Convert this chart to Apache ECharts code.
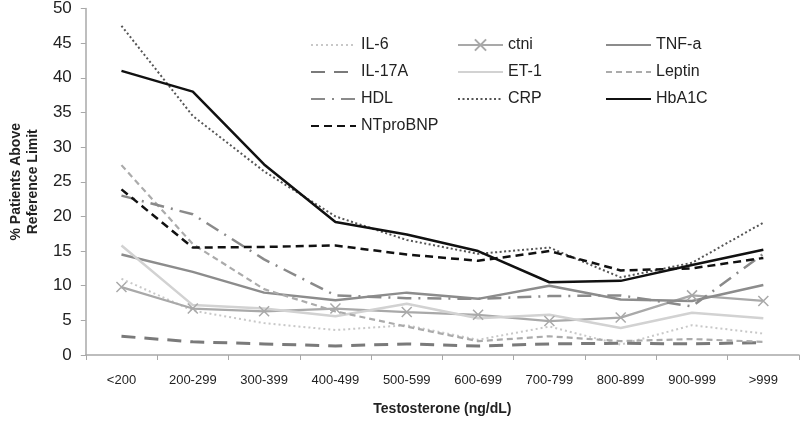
<!DOCTYPE html>
<html><head><meta charset="utf-8">
<script src="https://cdn.jsdelivr.net/npm/echarts@6/dist/echarts.min.js"></script>
<style>html,body{margin:0;padding:0;background:#fff}#c{width:800px;height:421px}</style>
</head><body><div id="c"></div>
<script>
const categories = ['<200','200-299','300-399','400-499','500-599','600-699','700-799','800-899','900-999','>999'];
const il6      = [11.0, 6.4, 4.6, 3.6, 4.3, 2.2, 4.1, 1.5, 4.3, 3.1];
const ctni     = [9.8, 6.7, 6.3, 6.7, 6.2, 5.8, 4.9, 5.4, 8.6, 7.8];
const tnfa     = [14.5, 12.0, 9.0, 7.9, 9.0, 8.1, 10.0, 8.0, 7.8, 10.1];
const il17a    = [2.7, 1.9, 1.6, 1.3, 1.6, 1.3, 1.6, 1.7, 1.6, 1.8];
const et1      = [15.8, 7.2, 6.7, 5.6, 7.4, 5.3, 5.8, 3.9, 6.1, 5.3];
const leptin   = [27.4, 16.0, 9.5, 6.3, 4.1, 2.0, 2.7, 2.0, 2.3, 1.9];
const hdl      = [23.0, 20.3, 13.8, 8.6, 8.2, 8.1, 8.5, 8.6, 7.0, 14.6];
const crp      = [47.5, 34.5, 26.5, 20.0, 16.6, 14.6, 15.5, 11.2, 13.3, 19.1];
const hba1c    = [41.0, 38.0, 27.5, 19.2, 17.4, 15.0, 10.5, 10.7, 13.0, 15.2];
const ntprobnp = [23.9, 15.5, 15.6, 15.8, 14.5, 13.6, 15.0, 12.2, 12.5, 14.0];
const yTicks = [0, 5, 10, 15, 20, 25, 30, 35, 40, 45, 50];

const FONT = 'Liberation Sans, Arial, sans-serif';
function ser(name, data, color, width, type, extra) {
  return Object.assign({
    name, type: 'line', data, symbol: 'none', smooth: false,
    lineStyle: { color, width, type },
    itemStyle: { color },
    z: 2
  }, extra || {});
}
const series = [
  ser('IL-6', il6, '#c8c8c8', 2, [2, 3]),
  ser('ctni', ctni, '#a9a9a9', 2.2, 'solid', {
    symbol: 'path://M0,0L10,10M10,0L0,10', symbolSize: 10, showSymbol: true,
    itemStyle: { color: '#a9a9a9', borderColor: '#a9a9a9', borderWidth: 1.5 }
  }),
  ser('TNF-a', tnfa, '#8c8c8c', 2.5, 'solid'),
  ser('IL-17A', il17a, '#7a7a7a', 3, [14, 9]),
  ser('ET-1', et1, '#d2d2d2', 2.5, 'solid'),
  ser('Leptin', leptin, '#ababab', 2.2, [6, 4]),
  ser('HDL', hdl, '#8a8a8a', 2.5, [14, 7, 2, 7]),
  ser('CRP', crp, '#555555', 2, [2, 2.5]),
  ser('HbA1C', hba1c, '#111111', 2.5, 'solid'),
  ser('NTproBNP', ntprobnp, '#111111', 2.5, [8, 5])
];
const hide = n => ({ name: n, itemStyle: { opacity: 0 } });
const legBase = {
  orient: 'vertical', top: 32, itemWidth: 45, itemHeight: 14, itemGap: 11,
  textStyle: { fontSize: 16, color: '#222', fontFamily: FONT },
  selectedMode: false
};
const option = {
  animation: false,
  backgroundColor: '#fff',
  grid: { left: 84, right: 1, top: 7, bottom: 64, containLabel: false },
  legend: [
    Object.assign({}, legBase, { left: 305, data: ['IL-6', 'IL-17A', 'HDL', 'NTproBNP'].map(hide) }),
    Object.assign({}, legBase, { left: 452, data: ['ctni', hide('ET-1'), hide('CRP')] }),
    Object.assign({}, legBase, { left: 600, data: ['TNF-a', 'Leptin', 'HbA1C'].map(hide) })
  ],
  xAxis: {
    type: 'category', data: categories, boundaryGap: true,
    axisLine: { lineStyle: { color: '#a8a8a8', width: 1.5 } },
    axisTick: { show: true, alignWithLabel: false, length: 5, lineStyle: { color: '#a8a8a8' } },
    axisLabel: { color: '#222', fontSize: 13, fontFamily: FONT, margin: 19, interval: 0 },
    name: 'Testosterone (ng/dL)', nameLocation: 'middle', nameGap: 47,
    nameTextStyle: { color: '#222', fontSize: 14, fontWeight: 'bold', fontFamily: FONT }
  },
  yAxis: {
    type: 'value', min: 0, max: 50, interval: 5,
    axisLine: { show: true, lineStyle: { color: '#a8a8a8', width: 1.5 } },
    axisTick: { show: true, length: 5, lineStyle: { color: '#a8a8a8' } },
    splitLine: { show: false },
    axisLabel: { color: '#222', fontSize: 17, fontFamily: FONT, margin: 14,
      formatter: v => yTicks.includes(v) ? String(v) : '' },
    name: '% Patients Above\nReference Limit', nameLocation: 'middle', nameRotate: 90, nameGap: 35,
    nameTextStyle: { color: '#222', fontSize: 14, fontWeight: 'bold', fontFamily: FONT, lineHeight: 17 }
  },
  series
};
const chart = echarts.init(document.getElementById('c'), null, { renderer: 'canvas' });
chart.setOption(option);
</script></body></html>
